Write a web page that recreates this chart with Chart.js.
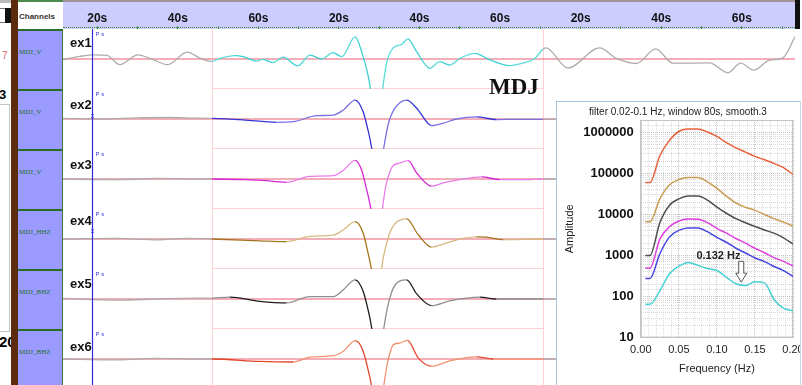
<!DOCTYPE html>
<html>
<head>
<meta charset="utf-8">
<title>MDJ</title>
<script src="https://cdn.jsdelivr.net/npm/chart.js@4.4.1/dist/chart.umd.min.js"></script>
<style>
  html, body { margin: 0; padding: 0; }
  body { width: 802px; height: 385px; overflow: hidden; position: relative; background: #fff;
         font-family: 'Liberation Sans', Arial, sans-serif; }
  .abs { position: absolute; }
  #brown { left: 11px; top: 0; width: 7px; height: 385px; background: #5c2a0c; }
  #chanHead { left: 18px; top: 0; width: 45px; height: 29px; box-sizing: border-box; background: #fff;
              border-top: 2px solid #4a8a4a; font: bold 8px 'Liberation Sans', Arial; color: #333; padding: 10px 0 0 1px; }
  .chan { left: 18px; width: 45px; height: 60px; box-sizing: border-box; background: #9a9aff;
          border-top: 2px solid #2a6a2a; border-right: 1px solid #3a7a3a;
          font: 7px 'Liberation Serif', serif; color: #1f6f1f; padding: 17px 0 0 1px; }
  #timeHead { left: 63px; top: 0; width: 732px; height: 29px; background: #ccccff; overflow: hidden; }
  #timeHead .topLine { position: absolute; left: 0; right: 0; top: 0; height: 2px; background: #a09494; }
  #timeHead canvas { position: absolute; left: 0; top: 0; }
  #timeHead .dots { position: absolute; left: 0; right: 0; top: 27px; border-top: 1px dotted #3c8c3c; }
  #endBar { left: 795px; top: 0; width: 5px; height: 29px; background: #111; }
  .row { position: absolute; left: 63px; }
  .exLabel { position: absolute; left: 70px; font: bold 13px 'Liberation Sans', Arial; color: #111; }
  #station { left: 489px; top: 74px; font: bold 23px 'Liberation Serif', 'Times New Roman', serif; color: #111; }
  #inset { left: 556px; top: 101px; width: 243px; height: 290px; background: #fff; overflow: hidden;
           border-left: 1.5px solid #a6c4e4; border-top: 1.5px solid #a6c4e4; border-right: 1.5px solid #c8dcee; }
  #inset canvas { position: absolute; left: 0; top: 0; }
</style>
</head>
<body>

<!-- left edge of the neighbouring window -->
<div class="abs" style="left:0;top:0;width:11px;height:3px;background:#bbb"></div>
<div class="abs" style="left:-1px;top:8px;width:6px;height:13px;border:1px solid #777;border-right:none"></div>
<div class="abs" style="left:5px;top:8px;width:6px;height:15px;background:#111"></div>
<div class="abs" style="left:2px;top:50px;color:#d66;font-size:10px">7</div>
<div class="abs" style="left:-1px;top:87px;font:bold 13px 'Liberation Sans',Arial">3</div>
<div class="abs" style="left:-2px;top:104px;width:10px;height:226px;border:1px solid #c4c4c4"></div>
<div class="abs" style="left:-1px;top:333px;font:bold 15px 'Liberation Sans',Arial">20</div>
<div id="brown" class="abs"></div>

<div id="chanHead" class="abs">Channels</div>
<div class="chan abs" style="top:29px">MDJ_V</div>
<div class="chan abs" style="top:89px">MDJ_V</div>
<div class="chan abs" style="top:149px">MDJ_V</div>
<div class="chan abs" style="top:209px">MDJ_HHZ</div>
<div class="chan abs" style="top:269px">MDJ_BHZ</div>
<div class="chan abs" style="top:329px">MDJ_BHZ</div>

<div id="timeHead" class="abs"><div class="topLine"></div><canvas id="timeAxis" width="732" height="60"></canvas><div class="dots"></div></div>
<div id="endBar" class="abs"></div>

<canvas class="row" id="row0" width="732" height="60" style="top:29px"></canvas>
<canvas class="row" id="row1" width="732" height="60" style="top:89px"></canvas>
<canvas class="row" id="row2" width="732" height="60" style="top:149px"></canvas>
<canvas class="row" id="row3" width="732" height="60" style="top:209px"></canvas>
<canvas class="row" id="row4" width="732" height="60" style="top:269px"></canvas>
<canvas class="row" id="row5" width="732" height="60" style="top:329px"></canvas>

<div class="exLabel" style="top:35px">ex1</div>
<div class="exLabel" style="top:97px">ex2</div>
<div class="exLabel" style="top:157px">ex3</div>
<div class="exLabel" style="top:213px">ex4</div>
<div class="exLabel" style="top:276px">ex5</div>
<div class="exLabel" style="top:339px">ex6</div>

<div id="station" class="abs">MDJ</div>

<div id="inset" class="abs"><canvas id="spectrum" width="256" height="284"></canvas></div>

<script>
// time axis (s) and labels on the header
const timeMin = 11.5;
const timeMax = 193.2;
const timeTickSeconds = [20, 40, 60, 80, 100, 120, 140, 160, 180];
const timeTickLabels = ['20s', '40s', '60s', '20s', '40s', '60s', '20s', '40s', '60s'];
const timeMarkSeconds = [20, 30, 40, 50, 60, 70, 80, 90, 100, 110, 120, 130, 140, 150, 160, 170, 180, 190];

// 80 s analysis window and P pick
const windowStart = 48.5;
const windowEnd = 130.7;
const pickTime = 18.7;
const pickMarkAmp = [null, 0.1, null, 0.25, null, null];

// traces: time (s) and normalised amplitude
const ex1Time = [11.5, 15.7, 19.0, 22.4, 25.6, 30.1, 33.8, 37.5, 42.3, 45.5, 48.5, 50.5, 54.2, 56.2, 59.6, 61.1, 63.6, 66.1, 69.8, 72.8,
                 75.8, 78.5, 80.7, 84.0, 85.9, 87.2, 89.4, 91.9, 93.4, 95.6, 97.1, 99.3, 102.6, 105.0, 107.5, 110.0, 113.7, 117.5, 122.4, 125.6,
                 128.6, 130.7, 131.4, 136.8, 144.7, 149.0, 153.9, 158.6, 162.9, 172.0, 176.5, 179.7, 183.0, 186.9, 190.2, 193.2];
const ex1Amp = [-0.02, 0.09, 0.14, 0.12, -0.19, 0.14, -0.02, -0.19, 0.23, 0.03, -0.08, 0.02, 0.11, 0.08, -0.07, -0.01, -0.12, 0.06, -0.23, 0.13,
                0.00, 0.21, 0.08, 0.74, 0.13, -0.53, -2.0, -0.09, 0.36, 0.49, 0.67, 0.24, -0.31, -0.09, -0.20, 0.02, 0.19, -0.03, -0.22, -0.14,
                0.02, 0.33, 0.37, -0.30, 0.37, 0.01, -0.15, 0.34, -0.14, -0.13, -0.46, -0.14, -0.37, -0.04, 0.04, 0.74];

const ex2Time = [11.5, 22.0, 30.0, 38.0, 44.0, 48.5, 56.2, 64.5, 68.6, 74.5, 78.6, 81.1, 84.0, 86.0, 87.3, 89.6, 92.4, 93.9, 96.8, 99.3,
                 103.0, 105.9, 109.2, 114.1, 119.1, 124.1, 130.7, 140.0, 193.2];
const ex2Amp = [0.02, 0.00, 0.04, 0.05, 0.03, 0.02, -0.03, -0.11, -0.09, 0.11, 0.13, 0.30, 0.63, 0.24, -0.42, -1.7, -0.09, 0.36, 0.63, 0.36,
                -0.22, -0.14, 0.00, 0.07, -0.02, -0.01, -0.01, 0.01, 0.00];

const ex3Time = [11.5, 25.0, 35.0, 45.0, 48.5, 56.2, 60.4, 67.0, 72.8, 78.6, 81.1, 84.0, 85.6, 86.9, 89.6, 91.8, 93.3, 95.1, 97.2, 99.3,
                 103.0, 105.9, 110.0, 115.4, 119.9, 126.6, 130.7, 140.0, 193.2];
const ex3Amp = [0.00, -0.02, 0.02, 0.00, 0.00, -0.02, -0.04, -0.11, 0.09, 0.11, 0.29, 0.62, 0.31, -0.36, -1.7, -0.13, 0.42, 0.53, 0.61, 0.20,
                -0.24, -0.13, -0.02, 0.07, -0.02, -0.02, 0.00, 0.00, 0.00];

const ex4Time = [11.5, 25.0, 35.0, 42.0, 48.5, 60.4, 67.0, 72.8, 78.6, 81.1, 84.0, 86.0, 87.5, 89.6, 91.0, 92.6, 93.9, 96.8, 99.7, 103.0,
                 106.7, 110.8, 114.1, 116.6, 120.8, 130.7, 140.0, 193.2];
const ex4Amp = [0.00, 0.02, -0.03, 0.02, 0.00, -0.06, -0.09, 0.09, 0.13, 0.31, 0.58, 0.20, -0.63, -1.8, -0.63, 0.20, 0.51, 0.67, 0.14, -0.27,
                -0.13, 0.02, 0.07, 0.06, -0.02, 0.00, 0.00, 0.00];

const ex5Time = [11.5, 25.0, 35.0, 44.0, 48.5, 52.9, 60.4, 67.0, 72.8, 78.6, 81.1, 84.0, 86.0, 87.5, 89.6, 92.2, 93.5, 96.8, 99.3, 103.0,
                 107.5, 115.0, 119.1, 130.7, 140.0, 193.2];
const ex5Amp = [0.02, -0.04, 0.00, 0.03, 0.03, 0.06, -0.08, -0.13, 0.08, 0.08, 0.31, 0.64, 0.26, -0.52, -1.8, -0.19, 0.37, 0.64, 0.17, -0.22,
                -0.06, 0.06, 0.00, 0.00, 0.00, 0.00];

const ex6Time = [11.5, 25.0, 35.0, 44.0, 48.5, 60.4, 68.6, 72.8, 78.6, 81.1, 84.1, 86.0, 87.7, 89.6, 92.2, 93.5, 95.1, 97.0, 99.7, 103.0,
                 107.5, 114.1, 118.3, 130.7, 140.0, 193.2];
const ex6Amp = [0.00, -0.03, 0.02, 0.00, 0.00, -0.08, -0.10, 0.06, 0.11, 0.26, 0.61, 0.26, -0.63, -1.8, -0.03, 0.48, 0.53, 0.62, 0.03, -0.24,
                -0.06, 0.07, 0.00, 0.00, 0.00, 0.00];

// amplitude spectra (filter 0.02-0.1 Hz, window 80 s)
const spectrumFreq = [0.006, 0.012, 0.025, 0.0375, 0.05, 0.0625, 0.075, 0.0875, 0.1, 0.1125, 0.125, 0.1375, 0.15, 0.1625, 0.175, 0.1875, 0.2];
const specEx6 = [60000, 60000, 270000, 630000, 1050000, 1200000, 1200000, 1020000, 800000, 560000, 420000, 330000, 260000, 215000, 175000, 138000, 95000];
const specEx4 = [6600, 6600, 24000, 52000, 71000, 80000, 80000, 63000, 43000, 28000, 19000, 15000, 12600, 10000, 7900, 6500, 5200];
const specEx5 = [1000, 1000, 6300, 16600, 24000, 28000, 28000, 22400, 15100, 10700, 7900, 6300, 5100, 4200, 3500, 2700, 1900];
const specEx3 = [490, 490, 2500, 5000, 6900, 7700, 7600, 6300, 4600, 3500, 2600, 2000, 1500, 1170, 890, 720, 560];
const specEx2 = [275, 275, 1100, 2800, 4100, 4700, 4700, 3800, 2750, 2100, 1500, 1150, 870, 710, 540, 430, 310];
const specEx1 = [65, 65, 138, 355, 550, 680, 575, 480, 430, 295, 205, 185, 229, 215, 85, 52, 45];
const troughFreq = 0.132;

Chart.defaults.font.family = "'Liberation Sans', Arial, sans-serif";

const outsideGrey = '#b0abab';
const traces = [
  { time: ex1Time, amp: ex1Amp, dark: '#3ccfd2', light: '#5adada' },
  { time: ex2Time, amp: ex2Amp, dark: '#3434d6', light: '#7a72e2' },
  { time: ex3Time, amp: ex3Amp, dark: '#d626d6', light: '#ea7cea' },
  { time: ex4Time, amp: ex4Amp, dark: '#a4741c', light: '#d8b880' },
  { time: ex5Time, amp: ex5Amp, dark: '#1c1c1c', light: '#8e8e8e' },
  { time: ex6Time, amp: ex6Amp, dark: '#e0462a', light: '#f29072' }
];

// falling parts in the darker shade, rising parts lighter, grey outside the window
function segmentColor(ctx, tr) {
  const a = ctx.p0.parsed, b = ctx.p1.parsed;
  if (a.x < windowStart - 0.01 || b.x > windowEnd + 0.01) return outsideGrey;
  return b.y < a.y ? tr.dark : tr.light;
}

const rowDecor = {
  id: 'rowDecor',
  beforeDatasetsDraw(chart) {
    const { ctx, chartArea: a, scales: { x, y } } = chart;
    const x0 = Math.round(x.getPixelForValue(windowStart)) + 0.5;
    const x1 = Math.round(x.getPixelForValue(windowEnd)) + 0.5;
    ctx.save();
    ctx.strokeStyle = '#ffd0d4';
    ctx.lineWidth = 1;
    ctx.beginPath();
    ctx.moveTo(x0, a.top); ctx.lineTo(x0, a.bottom);
    ctx.moveTo(x1, a.top); ctx.lineTo(x1, a.bottom);
    ctx.moveTo(x0, a.bottom - 0.5); ctx.lineTo(x1, a.bottom - 0.5);
    ctx.stroke();
    const y0 = y.getPixelForValue(0);
    ctx.strokeStyle = 'rgba(236,120,135,0.8)';
    ctx.lineWidth = 1.4;
    ctx.beginPath();
    ctx.moveTo(a.left, y0); ctx.lineTo(a.right, y0);
    ctx.stroke();
    ctx.restore();
  },
  afterDatasetsDraw(chart, args, opts) {
    const { ctx, chartArea: a, scales: { x, y } } = chart;
    const px = Math.round(x.getPixelForValue(pickTime)) + 0.5;
    ctx.save();
    ctx.strokeStyle = '#2a2ae0';
    ctx.lineWidth = 1.2;
    ctx.beginPath();
    ctx.moveTo(px, a.top); ctx.lineTo(px, a.bottom);
    ctx.stroke();
    ctx.fillStyle = '#3a3ae0';
    ctx.font = '6px "Liberation Sans", Arial';
    ctx.textBaseline = 'top';
    ctx.fillText('P s', px + 3, a.top + 2);
    if (opts.mark !== null && opts.mark !== undefined) {
      ctx.font = '7px "Liberation Sans", Arial';
      ctx.textAlign = 'center';
      ctx.textBaseline = 'middle';
      ctx.fillText('x', px, y.getPixelForValue(opts.mark));
    }
    ctx.restore();
  }
};

traces.forEach((tr, i) => {
  new Chart(document.getElementById('row' + i), {
    type: 'line',
    data: {
      datasets: [{
        data: tr.time.map((t, k) => ({ x: t, y: tr.amp[k] })),
        borderWidth: 1.3,
        pointRadius: 0,
        cubicInterpolationMode: 'monotone',
        segment: { borderColor: ctx => segmentColor(ctx, tr) }
      }]
    },
    options: {
      responsive: false,
      animation: false,
      events: [],
      layout: { padding: 0 },
      plugins: { legend: { display: false }, tooltip: { enabled: false }, rowDecor: { mark: pickMarkAmp[i] } },
      scales: {
        x: { type: 'linear', min: timeMin, max: timeMax, display: false },
        y: { min: -1, max: 1, display: false }
      }
    },
    plugins: [rowDecor]
  });
});

// time header: the canvas is taller than the bar so the axis gets its full height,
// only the strip above the plot area stays visible
new Chart(document.getElementById('timeAxis'), {
  type: 'line',
  data: { datasets: [] },
  options: {
    responsive: false,
    animation: false,
    events: [],
    layout: { padding: { top: 10, left: 0, right: 0, bottom: 0 } },
    plugins: { legend: { display: false }, tooltip: { enabled: false } },
    scales: {
      x: {
        type: 'linear',
        position: 'top',
        min: timeMin,
        max: timeMax,
        afterBuildTicks: s => {
          s.ticks = timeMarkSeconds.map(v => ({ value: v }));
        },
        ticks: {
          autoSkip: false,
          maxRotation: 0,
          padding: 1,
          color: '#111',
          font: { size: 12, weight: 'bold' },
          callback: v => {
            const k = timeTickSeconds.indexOf(v);
            return k < 0 ? '' : timeTickLabels[k];
          }
        },
        grid: { drawOnChartArea: false, tickLength: 3, tickColor: '#3c8c3c' },
        border: { display: false }
      },
      y: { display: false }
    }
  }
});

// spectrum inset
const spectrumDecor = {
  id: 'spectrumDecor',
  beforeDatasetsDraw(chart) {
    const { ctx, chartArea: a } = chart;
    ctx.save();
    ctx.strokeStyle = '#c4c4c4';
    ctx.lineWidth = 1;
    ctx.strokeRect(a.left + 0.5, a.top + 0.5, a.width - 1, a.height - 1);
    ctx.restore();
  },
  afterDatasetsDraw(chart) {
    const { ctx, scales: { x, y } } = chart;
    const ax = x.getPixelForValue(troughFreq);
    const yTop = y.getPixelForValue(720);
    const yTip = y.getPixelForValue(224);
    ctx.save();
    ctx.beginPath();
    ctx.moveTo(ax - 2.5, yTop);
    ctx.lineTo(ax + 2.5, yTop);
    ctx.lineTo(ax + 2.5, yTip - 9);
    ctx.lineTo(ax + 5.5, yTip - 9);
    ctx.lineTo(ax, yTip);
    ctx.lineTo(ax - 5.5, yTip - 9);
    ctx.lineTo(ax - 2.5, yTip - 9);
    ctx.closePath();
    ctx.fillStyle = '#fff';
    ctx.fill();
    ctx.strokeStyle = '#555';
    ctx.lineWidth = 1;
    ctx.stroke();
    ctx.fillStyle = '#222';
    ctx.font = 'bold 11px "Liberation Sans", Arial';
    ctx.textAlign = 'center';
    ctx.textBaseline = 'middle';
    ctx.fillText(troughFreq.toFixed(3) + ' Hz', x.getPixelForValue(0.102), y.getPixelForValue(1000));
    ctx.restore();
  }
};

const spectra = [
  { values: specEx6, color: '#e8603a' },
  { values: specEx4, color: '#c89c54' },
  { values: specEx5, color: '#4e4e4e' },
  { values: specEx3, color: '#e040e0' },
  { values: specEx2, color: '#4646e0' },
  { values: specEx1, color: '#46d0d2' }
];

const isDecade = v => {
  const p = Math.log10(v);
  return Math.abs(p - Math.round(p)) < 1e-9;
};
const isMajorFreq = v => Math.abs(v * 20 - Math.round(v * 20)) < 1e-6;

new Chart(document.getElementById('spectrum'), {
  type: 'line',
  data: {
    datasets: spectra.map(s => ({
      data: spectrumFreq.map((f, k) => ({ x: f, y: s.values[k] })),
      borderColor: s.color,
      borderWidth: 1.5,
      pointRadius: 0,
      cubicInterpolationMode: 'monotone'
    }))
  },
  options: {
    responsive: false,
    animation: false,
    events: [],
    layout: { padding: { left: 6, right: 20, top: 0, bottom: 10 } },
    plugins: {
      legend: { display: false },
      tooltip: { enabled: false },
      title: {
        display: true,
        text: 'filter 0.02-0.1 Hz, window 80s, smooth.3',
        color: '#222',
        font: { size: 10, weight: 'normal' },
        padding: { top: 4, bottom: 2 }
      }
    },
    scales: {
      x: {
        type: 'linear',
        min: 0,
        max: 0.2,
        ticks: {
          stepSize: 0.01,
          autoSkip: false,
          maxRotation: 0,
          padding: 6,
          color: '#222',
          font: { size: 11 },
          callback: v => isMajorFreq(v) ? v.toFixed(2) : ''
        },
        grid: { drawTicks: false, color: c => (c.tick && isMajorFreq(c.tick.value)) ? '#c2c2c2' : '#dedede' },
        border: { color: '#c4c4c4', dash: [1, 1] },
        title: { display: true, text: 'Frequency (Hz)', color: '#222', font: { size: 11 }, padding: { top: 0, bottom: 0 } }
      },
      y: {
        type: 'logarithmic',
        min: 10,
        max: 2000000,
        ticks: {
          autoSkip: false,
          padding: 7,
          color: '#111',
          font: { size: 13, weight: 'bold' },
          callback: v => isDecade(v) ? String(Math.round(v)) : ''
        },
        grid: { drawTicks: false, color: c => (c.tick && isDecade(c.tick.value)) ? '#bdbdbd' : '#d6d6d6' },
        border: { color: '#c4c4c4', dash: [1, 1] },
        title: { display: true, text: 'Amplitude', color: '#222', font: { size: 11 }, padding: { top: 0, bottom: 0 } }
      }
    }
  },
  plugins: [spectrumDecor]
});
</script>
</body>
</html>
